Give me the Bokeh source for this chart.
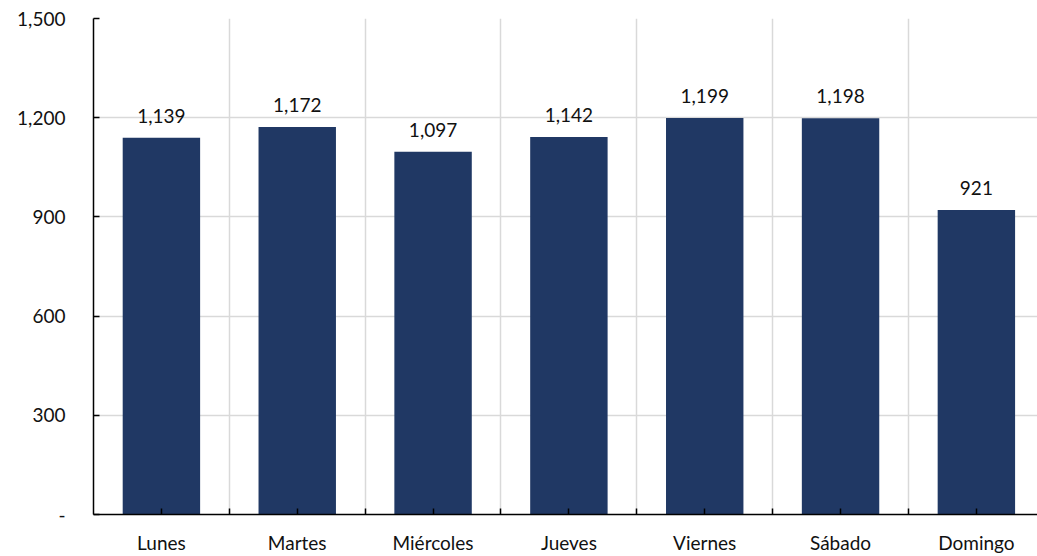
from bokeh.plotting import figure
from bokeh.models import ColumnDataSource, FixedTicker, NumeralTickFormatter, Range1d
from bokeh.core.properties import value
from bokeh.embed import file_html
from bokeh.resources import INLINE

days = ["Lunes", "Martes", "Miércoles", "Jueves", "Viernes", "Sábado", "Domingo"]
counts = [1139, 1172, 1097, 1142, 1199, 1198, 921]
y_ticks = [0, 300, 600, 900, 1200, 1500]

FONT = "Lato"
FS = "19px"
xs = list(range(len(days)))
src = ColumnDataSource(dict(x=xs, y=counts, lbl=[f"{v:,}" for v in counts]))

p = figure(width=1037, height=556, output_backend="svg", toolbar_location=None,
           x_range=Range1d(-0.5, 6.45), y_range=Range1d(0, 1500),
           min_border_left=93, min_border_right=0, min_border_top=18, min_border_bottom=42)
p.outline_line_color = None
p.background_fill_color = "white"
p.border_fill_color = "white"

p.vbar(x="x", top="y", width=0.57, bottom=0, source=src, fill_color="#203864", line_color=None)
p.text(x="x", y="y", text="lbl", source=src, text_align="center", text_baseline="bottom",
       y_offset=-15, text_font=value(FONT), text_font_size=FS, text_color="#111111")

# x axis
boundaries = [i + 0.5 for i in range(len(days) - 1)]
p.xaxis.ticker = FixedTicker(ticks=xs, minor_ticks=boundaries)
p.xaxis.major_label_overrides = {i: d for i, d in enumerate(days)}
p.xaxis.major_tick_in = 6
p.xaxis.major_tick_out = 0
p.xaxis.minor_tick_in = 6
p.xaxis.minor_tick_out = 0
p.xaxis.axis_line_color = "black"
p.xaxis.axis_line_width = 1.5
p.xaxis.major_tick_line_color = "black"
p.xaxis.major_tick_line_width = 1.5
p.xaxis.minor_tick_line_color = "black"
p.xaxis.minor_tick_line_width = 1.5
p.xaxis.major_label_standoff = 16
p.xaxis.major_label_text_font = FONT
p.xaxis.major_label_text_font_size = FS
p.xaxis.major_label_text_color = "#111111"

# y axis
p.yaxis.ticker = FixedTicker(ticks=y_ticks)
p.yaxis.formatter = NumeralTickFormatter(format="0,0")
p.yaxis.major_label_overrides = {0: "-"}
p.yaxis.major_tick_in = 6
p.yaxis.major_tick_out = 0
p.yaxis.minor_tick_line_color = None
p.yaxis.axis_line_color = "black"
p.yaxis.axis_line_width = 1.5
p.yaxis.major_tick_line_color = "black"
p.yaxis.major_tick_line_width = 1.5
p.yaxis.major_label_standoff = 28
p.yaxis.major_label_text_font = FONT
p.yaxis.major_label_text_font_size = FS
p.yaxis.major_label_text_color = "#111111"

# grids
p.xgrid.ticker = FixedTicker(ticks=boundaries)
p.xgrid.grid_line_color = "#d9d9d9"
p.xgrid.grid_line_width = 1.5
p.ygrid.grid_line_color = "#d9d9d9"
p.ygrid.grid_line_width = 1.5

open("out.html", "w").write(file_html(p, INLINE))
